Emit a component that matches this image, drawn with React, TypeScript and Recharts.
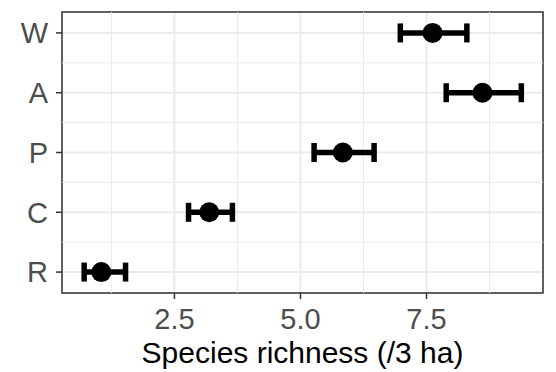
import React from "react"
import {
  ScatterChart,
  Scatter,
  XAxis,
  YAxis,
  CartesianGrid,
  ErrorBar,
  ReferenceLine,
  ReferenceArea,
} from "recharts"

const sites = ["W", "A", "P", "C", "R"]
const means = [7.62, 8.61, 5.84, 3.19, 1.05]
const lower = [6.98, 7.89, 5.27, 2.78, 0.71]
const upper = [8.3, 9.38, 6.46, 3.65, 1.53]

const xTicks = [2.5, 5.0, 7.5]
const xMinor = [1.25, 3.75, 6.25, 8.75]
const yMinor = [1.5, 2.5, 3.5, 4.5]

const X_DOMAIN: [number, number] = [0.27, 9.81]
const Y_DOMAIN: [number, number] = [0.65, 5.35]

// y position: top row (W) gets the highest value
const data = sites.map((s, i) => ({
  site: s,
  y: sites.length - i,
  mean: means[i],
  err: [means[i] - lower[i], upper[i] - means[i]],
}))

const FONT = "'Liberation Sans', Arial, sans-serif"

const Dot = (props: any) => <circle cx={props.cx} cy={props.cy} r={10} fill="#000" />

export default function App() {
  return (
    <div style={{ position: "absolute", left: 0, top: 0, fontFamily: FONT }}>
      <ScatterChart width={556} height={372} margin={{ top: 12, right: 13, bottom: 0, left: 0 }}>
        <CartesianGrid stroke="#EBEBEB" strokeWidth={2} />
        {xMinor.map((v) => (
          <ReferenceLine key={"x" + v} x={v} stroke="#EBEBEB" strokeWidth={1} />
        ))}
        {yMinor.map((v) => (
          <ReferenceLine key={"y" + v} y={v} stroke="#EBEBEB" strokeWidth={1} />
        ))}
        <XAxis
          type="number"
          dataKey="mean"
          domain={X_DOMAIN}
          ticks={xTicks}
          tickFormatter={(v: number) => v.toFixed(1)}
          axisLine={false}
          tickLine={{ stroke: "#333333", strokeWidth: 1.5 }}
          tickSize={6}
          tickMargin={9}
          height={79}
          tick={{ fill: "#4D4D4D", fontSize: 29, fontFamily: FONT }}
          label={{
            value: "Species richness (/3 ha)",
            position: "insideBottom",
            offset: 9,
            fill: "#000",
            fontSize: 30,
            fontFamily: FONT,
          }}
        />
        <YAxis
          type="number"
          dataKey="y"
          domain={Y_DOMAIN}
          ticks={[1, 2, 3, 4, 5]}
          tickFormatter={(v: number) => sites[sites.length - v]}
          axisLine={false}
          tickLine={{ stroke: "#333333", strokeWidth: 1.5 }}
          tickSize={6}
          tickMargin={8}
          width={62}
          tick={{ fill: "#4D4D4D", fontSize: 29, fontFamily: FONT }}
        />
        <Scatter data={data} shape={Dot} isAnimationActive={false}>
          <ErrorBar dataKey="err" direction="x" width={9.5} strokeWidth={5.5} stroke="#000" />
        </Scatter>
        <ReferenceArea
          x1={X_DOMAIN[0]}
          x2={X_DOMAIN[1]}
          y1={Y_DOMAIN[0]}
          y2={Y_DOMAIN[1]}
          fill="none"
          stroke="#333333"
          strokeWidth={1.5}
        />
      </ScatterChart>
    </div>
  )
}
